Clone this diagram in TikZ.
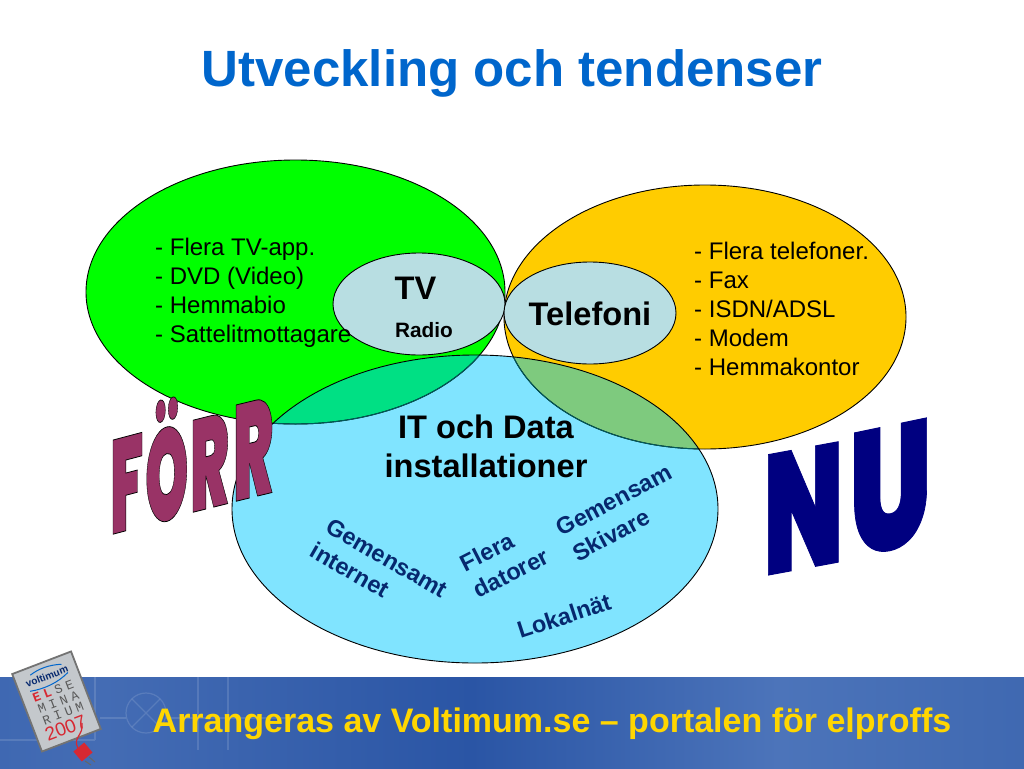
\documentclass[tikz,border=0pt]{standalone}
\usepackage{fontspec}
\setmainfont{Liberation Sans}
\newfontfamily\logofont[LetterSpace=30]{Liberation Mono}
\newfontface\wafont[FakeBold=0.6]{Poppins Black}
\usetikzlibrary{calc}
\definecolor{titleblue}{RGB}{0,102,204}
\definecolor{grn}{RGB}{0,255,0}
\definecolor{org}{RGB}{255,204,0}
\definecolor{cyanb}{RGB}{128,228,255}
\definecolor{tealov}{RGB}{0,224,132}
\definecolor{oliveov}{RGB}{126,202,126}
\definecolor{pale}{RGB}{184,222,226}
\definecolor{plum}{RGB}{153,51,102}
\definecolor{navyw}{RGB}{0,0,128}
\definecolor{dkblue}{RGB}{6,40,110}
\definecolor{lensline}{RGB}{0,90,90}
\definecolor{footy}{RGB}{255,214,0}
\definecolor{lgrey}{RGB}{196,200,204}
\definecolor{logored}{RGB}{215,40,50}
\definecolor{bnda}{RGB}{38,85,168}
\definecolor{bndb}{RGB}{68,108,180}
\definecolor{bndc}{RGB}{42,85,165}
\definecolor{bndd}{RGB}{76,116,186}
\definecolor{bnde}{RGB}{56,98,172}
\definecolor{bndf}{RGB}{44,88,165}
\pgfdeclarehorizontalshading{bandshade}{100bp}{
 color(0bp)=(bnda);
 color(30bp)=(bndb);
 color(48bp)=(bndc);
 color(63bp)=(bndd);
 color(82bp)=(bnde);
 color(100bp)=(bndf)}
\newcommand{\blackedge}{\special{pdf:code 0 0 0 RG}}
\newcommand{\navyedge}{\special{pdf:code 0 0 0.5 RG}}
\tikzset{
 venn/.style={draw=black,line width=0.9pt},
 lst/.style={anchor=base west,inner sep=0pt,font=\fontsize{24}{26}\selectfont,text=black},
 lbl/.style={inner sep=0pt,font=\fontsize{32.6}{36}\bfseries\selectfont,text=black},
 rot/.style={inner sep=0pt,font=\fontsize{23.5}{26}\bfseries\selectfont,text=dkblue},
 wordart/.style={anchor=base west,inner sep=0pt,transform shape,font=\fontsize{100}{100}\wafont},
 faint/.style={draw=white,opacity=0.13,line width=1.2pt},
 logotext/.style={inner sep=0pt,transform shape,font=\fontsize{13}{13}\logofont,text=black!65}
}
\begin{document}
\begin{tikzpicture}[x=1pt,y=-1pt]
\useasboundingbox (0,0) rectangle (1024,768);
\fill[white] (0,0) rectangle (1024,768);
% footer band
\shade[shading=bandshade] (0,677) rectangle (1024,768);
\draw[faint] (146,713) circle (20);
\draw[faint] (132,699) -- (160,727) (160,699) -- (132,727);
\draw[faint] (0,740) -- (95,740) (95,677) -- (95,740) (100,718) -- (126,718) (166,718) -- (300,718);
\draw[faint] (198,677) -- (198,750) (228,677) -- (228,750);
% venn
\fill[grn] (295.5,292) ellipse (209.5 and 132);
\fill[org] (705,317) ellipse (201 and 132);
\fill[cyanb] (475,509) ellipse (243 and 154);
\begin{scope}
\clip (295.5,292) ellipse (209.5 and 132);
\fill[tealov] (475,509) ellipse (243 and 154);
\end{scope}
\begin{scope}
\clip (705,317) ellipse (201 and 132);
\fill[oliveov] (475,509) ellipse (243 and 154);
\end{scope}
\draw[venn] (295.5,292) ellipse (209.5 and 132);
\draw[venn] (705,317) ellipse (201 and 132);
\begin{scope}
\clip (475,509) ellipse (243 and 154);
\draw[lensline,line width=1pt] (295.5,292) ellipse (209.5 and 132);
\draw[lensline,line width=1pt] (705,317) ellipse (201 and 132);
\end{scope}
\draw[venn] (475,509) ellipse (243 and 154);
\fill[pale,draw=black,line width=0.9pt] (419,304) ellipse (86 and 51);
\fill[pale,draw=black,line width=0.9pt] (590,313) ellipse (86 and 51);
% lists
\node[lst] (a1) at (155,255) {- Flera TV-app.};
\node[lst] (a2) at (155,284) {- DVD (Video)};
\node[lst] (a3) at (155,313) {- Hemmabio};
\node[lst] (a4) at (155,342) {- Sattelitmottagare};
\node[lst] (b1) at (694,259) {- Flera telefoner.};
\node[lst] (b2) at (694,288) {- Fax};
\node[lst] (b3) at (694,317) {- ISDN/ADSL};
\node[lst] (b4) at (694,346) {- Modem};
\node[lst] (b5) at (694,375) {- Hemmakontor};
% labels
\node[lbl] (tv) at (415.5,288) {TV};
\node[lbl,font=\fontsize{20.8}{22}\bfseries\selectfont] (radio) at (424,330) {Radio};
\node[lbl] (tele) at (590,314) {Telefoni};
\node[lbl] (it1) at (486,427) {IT och Data};
\node[lbl] (it2) at (486,466) {installationer};
\node[rot,rotate=-30] (g1) at (387,558) {Gemensamt};
\node[rot,rotate=-30] (g2) at (350,570) {internet};
\node[rot,rotate=27] (f1) at (487,552) {Flera};
\node[rot,rotate=27] (f2) at (511,573) {datorer};
\node[rot,rotate=28] (s1) at (614,500) {Gemensam};
\node[rot,rotate=28] (s2) at (611,535) {Skivare};
\node[rot,rotate=18] (l1) at (564,616) {Lokalnät};
% title
\node[inner sep=0pt,font=\fontsize{51}{56}\bfseries\selectfont,text=titleblue,anchor=base] (title) at (512,86) {Utveckling och tendenser};
% word art
\node[wordart,text=plum,cm={0.58,0.154,0,1.33,(110,535)}] (w1) {\blackedge F};
\node[wordart,text=plum,cm={0.55,0.138,0,1.3,(145,526)}] (w2) {\blackedge Ö};
\node[wordart,text=plum,cm={0.58,0.145,0,1.3,(190,513)}] (w3) {\blackedge R};
\node[wordart,text=plum,cm={0.6,0.146,0,1.36,(233,502)}] (w4) {\blackedge R};
\node[wordart,text=navyw,cm={1.03,0.19,0,1.7,(763,576)}] (n1) {\navyedge N};
\node[wordart,text=navyw,cm={1.15,0.24,0,1.75,(849,558)}] (n2) {\navyedge U};
% footer text
\node[inner sep=0pt,font=\fontsize{34}{38}\bfseries\selectfont,text=footy,anchor=base] (foot) at (552,732) {Arrangeras av Voltimum.se – portalen för elproffs};
% logo
\begin{scope}[shift={(56.5,701.5)},rotate=21]
\fill[lgrey,draw=black!55,line width=1.8pt] (-31.5,-41.5) rectangle (31.5,41.5);
\node[logotext,font=\fontsize{10}{10}\bfseries\selectfont,text=dkblue] (v) at (0,-27) {voltimum};
\draw[titleblue,line width=1pt] (-21,-19) .. controls (-7,-16) and (8,-17) .. (21,-23);
\draw[titleblue,line width=1pt] (-15,-34) .. controls (-5,-37) and (6,-37) .. (18,-33);
\node[logotext] (e1) at (0.5,-11) {\textcolor{logored}{\textbf{EL}}SE};
\node[logotext] (e3) at (1.5,1) {MINA};
\node[logotext] (e4) at (2,13.5) {RIUM};
\node[logotext,font=\fontsize{19}{19}\selectfont,text=logored] (e5) at (-1,28) {2007};
\end{scope}
\coordinate (pw) at (82,723);
\coordinate (pl) at (78,748);
\draw[logored,line width=1.2pt] (pw) .. controls (84,735) and (72,738) .. (pl);
\fill[logored,rotate around={40:(83,752)}] (76,745.5) rectangle (90,758.5);
\draw[black!60,line width=1pt] (89,757) -- (95,762) (85,761) -- (91,765);
\end{tikzpicture}
\end{document}
